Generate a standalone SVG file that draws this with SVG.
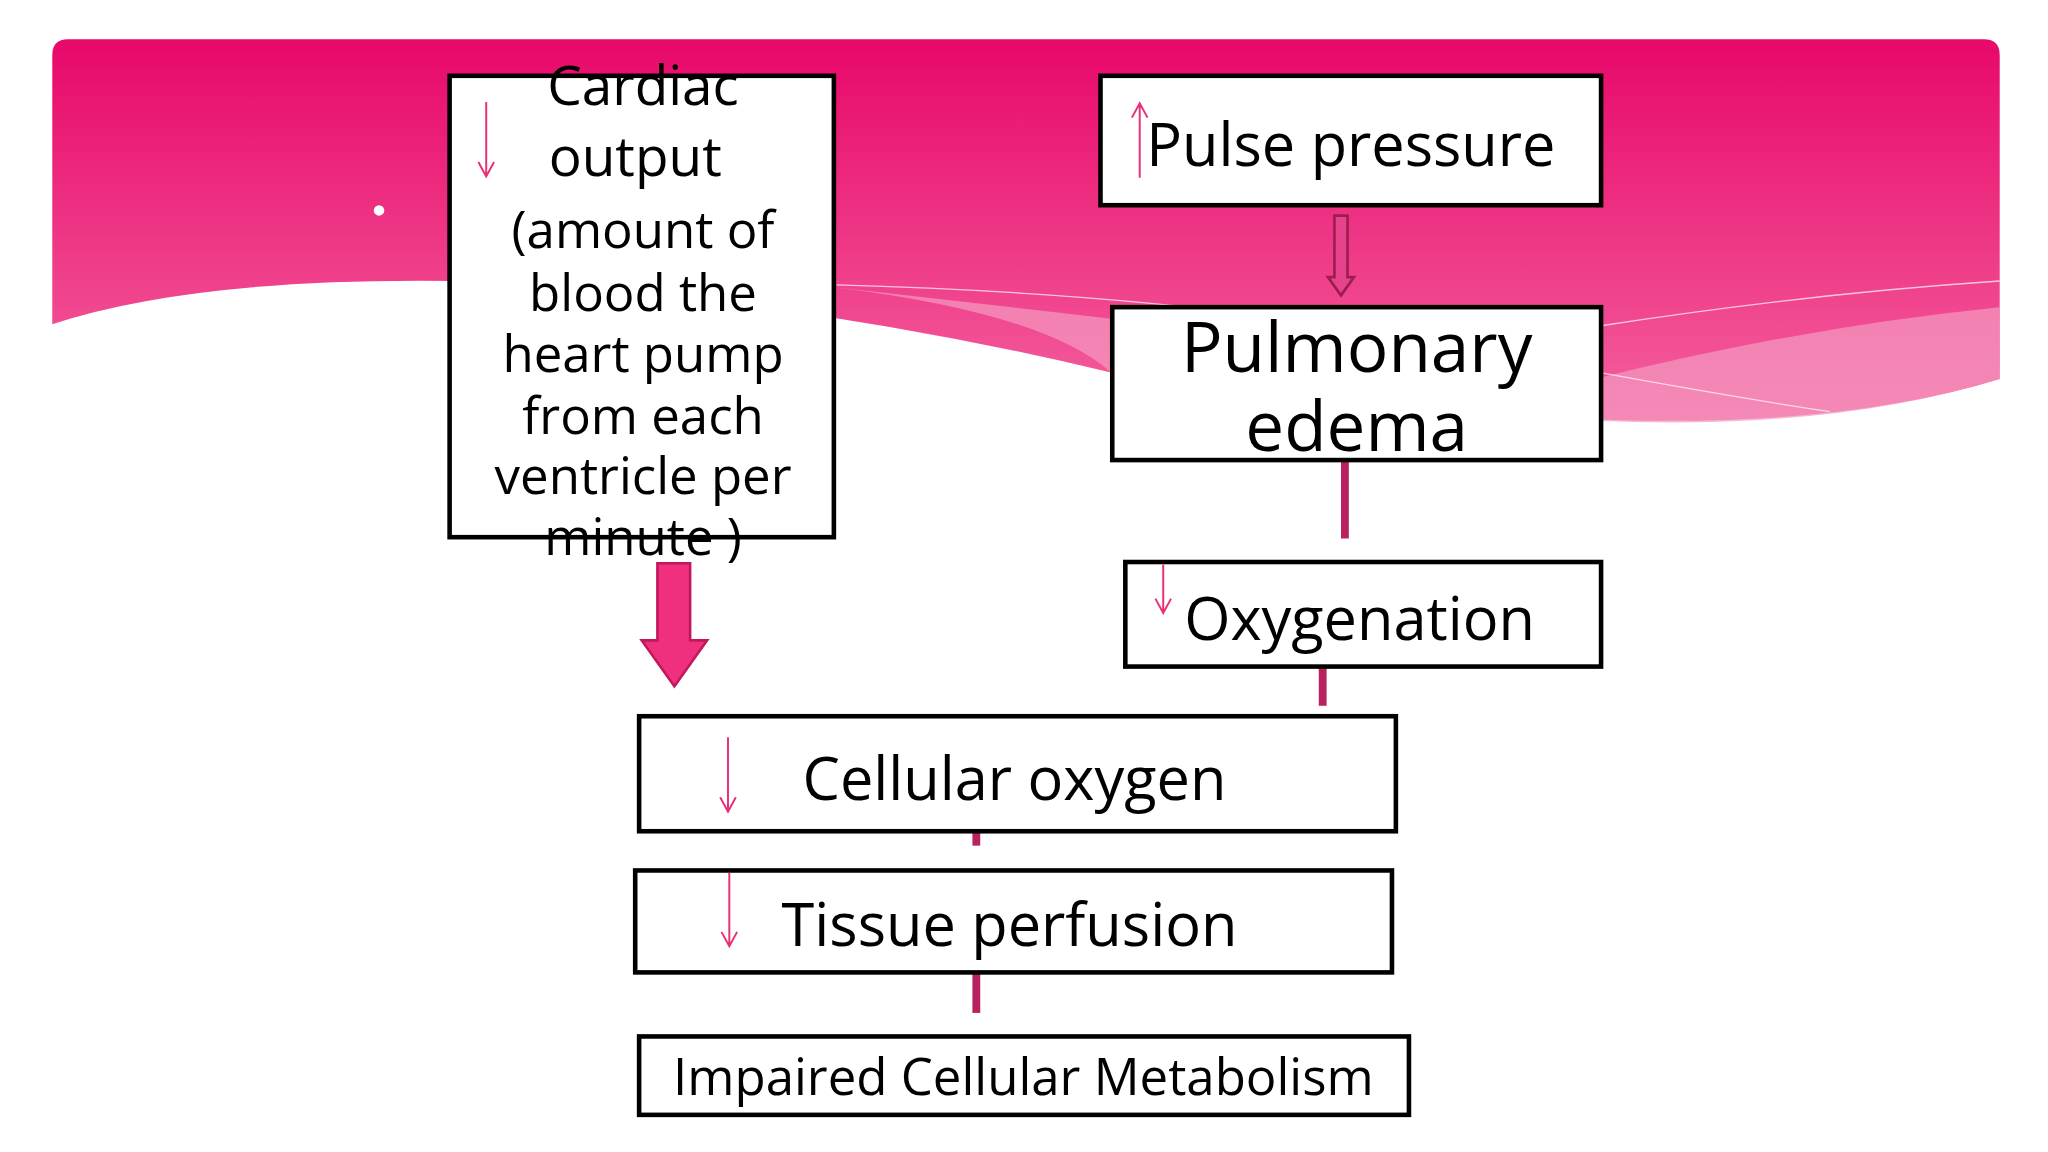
<svg xmlns="http://www.w3.org/2000/svg" width="2048" height="1152" viewBox="0 0 2048 1152">
<defs>
<linearGradient id="bg" x1="0" y1="0" x2="0" y2="1">
<stop offset="0" stop-color="#e8086a"/><stop offset="1" stop-color="#f4619f"/>
</linearGradient>
<style>
.box{fill:#fff;stroke:#000;stroke-width:3.5}
.t{font-family:"Open Sans","Noto Sans",sans-serif;fill:#000}
.ar{stroke:#e8307a;stroke-width:1.5;fill:none}
.cn{stroke:#b8235f;stroke-width:6;fill:none}
</style>
</defs>
<rect width="2048" height="1152" fill="#fff"/>
<g transform="scale(1.307)">
<g id="header">
<path d="M52,30 H1518 Q1530,30 1530,42 V290 Q1400,330 1200,320 Q1000,300 850,285 Q600,225 350,215 Q150,212 40,248 V42 Q40,30 52,30 Z" fill="url(#bg)"/>
<path d="M640,220 Q800,240 850,285 Q1000,305 1220,322 Q1400,330 1530,290 V235 Q1380,250 1220,290 Q1000,260 640,220 Z" fill="#f39ac0" opacity="0.7"/>
<path d="M640,218 Q900,225 1100,262 Q1300,300 1400,315" stroke="#fff" stroke-width="1" fill="none" opacity="0.7"/>
<path d="M1220,250 Q1380,225 1530,215" stroke="#fff" stroke-width="1" fill="none" opacity="0.7"/>
<circle cx="290" cy="161" r="4" fill="#fff"/>
</g>
<g id="connectors">
<path d="M503,431 H528 V490 H541 L516,525 L491,490 H503 Z" fill="#f0307f" stroke="#c2185b" stroke-width="2"/>
<path d="M1021,165 H1031 V212 H1036 L1026,226 L1016,212 H1021 Z" fill="#e6438c" stroke="#9c1e4e" stroke-width="2"/>
<line class="cn" x1="1029" y1="353" x2="1029" y2="412"/>
<line class="cn" x1="1012" y1="510" x2="1012" y2="540"/>
<line class="cn" x1="747" y1="627" x2="747" y2="647"/>
<line class="cn" x1="747" y1="745" x2="747" y2="775"/>
</g>
<g id="cardiac">
<rect class="box" x="344" y="58" width="294" height="353"/>
<path class="ar" d="M372,78 V135 M366,124 L372,135 L378,124"/>
<g class="t" font-size="42" text-anchor="middle">
<text x="492" y="80">Cardiac</text><text x="486" y="135">output</text>
</g>
<g class="t" font-size="39" text-anchor="middle">
<text x="492" y="190">(amount of</text><text x="492" y="238">blood the</text><text x="492" y="285">heart pump</text><text x="492" y="332">from each</text><text x="492" y="378">ventricle per</text><text x="492" y="425">minute )</text>
</g>
</g>
<g id="pulse">
<rect class="box" x="842" y="58" width="383" height="99"/>
<path class="ar" d="M872,136 V79 M866,90 L872,79 L878,90"/>
<text class="t" x="877" y="127" font-size="45.5">Pulse pressure</text>
</g>
<g id="edema">
<rect class="box" x="851" y="235" width="374" height="117"/>
<text class="t" x="1038" y="285" font-size="53" text-anchor="middle">Pulmonary</text>
<text class="t" x="1038" y="345" font-size="53" text-anchor="middle">edema</text>
</g>
<g id="oxygenation">
<rect class="box" x="861" y="430" width="364" height="80"/>
<path class="ar" d="M890,432 V469 M884,458 L890,469 L896,458"/>
<text class="t" x="906" y="490" font-size="45.5">Oxygenation</text>
</g>
<g id="cellular">
<rect class="box" x="489" y="548" width="579" height="88"/>
<path class="ar" d="M557,564 V621 M551,610 L557,621 L563,610"/>
<text class="t" x="614" y="612" font-size="45.5">Cellular oxygen</text>
</g>
<g id="tissue">
<rect class="box" x="486" y="666" width="579" height="78"/>
<path class="ar" d="M558,668 V724 M552,713 L558,724 L564,713"/>
<text class="t" x="598" y="724" font-size="45.5">Tissue perfusion</text>
</g>
<g id="impaired">
<rect class="box" x="489" y="793" width="589" height="60"/>
<text class="t" x="783" y="838" font-size="39" text-anchor="middle">Impaired Cellular Metabolism</text>
</g>
</g>
</svg>
